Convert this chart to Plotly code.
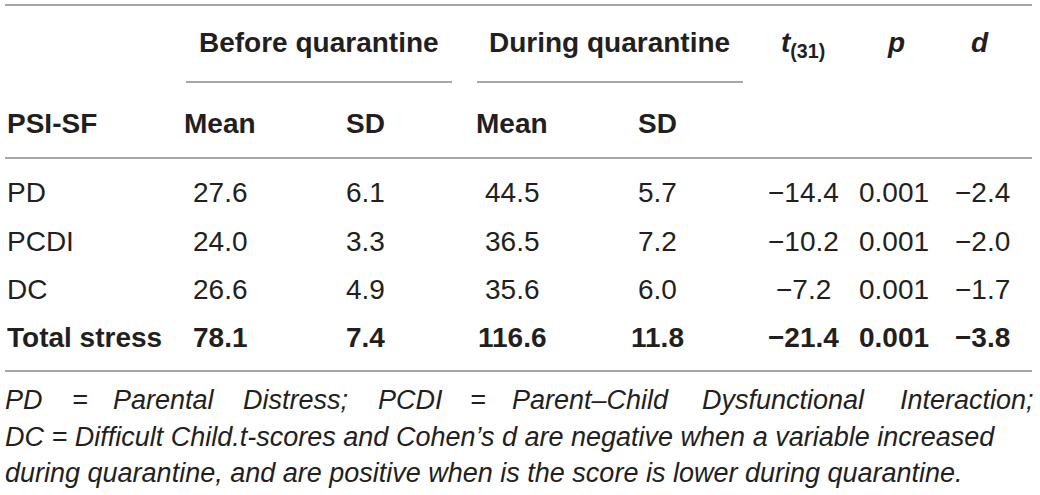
import plotly.graph_objects as go

# table values
scales = ["PD", "PCDI", "DC", "Total stress"]
before_mean = [27.6, 24.0, 26.6, 78.1]
before_sd = [6.1, 3.3, 4.9, 7.4]
during_mean = [44.5, 36.5, 35.6, 116.6]
during_sd = [5.7, 7.2, 6.0, 11.8]
t_vals = [-14.4, -10.2, -7.2, -21.4]
p_vals = [0.001, 0.001, 0.001, 0.001]
d_vals = [-2.4, -2.0, -1.7, -3.8]

group_headers = ["Before quarantine", "During quarantine"]
sub_headers = ["Mean", "SD", "Mean", "SD"]

note_line1 = ["PD", "=", "Parental", "Distress;", "PCDI", "=", "Parent\u2013Child",
              "Dysfunctional", "Interaction;"]
note_line2 = "DC = Difficult Child.t-scores and Cohen\u2019s d are negative when a variable increased"
note_line3 = "during quarantine, and are positive when is the score is lower during quarantine."

FONT = "Liberation Sans, Arial, sans-serif"
TXT = "#231f20"
LINE = "#8a8a8a"
FS = 28
FS_NOTE = 27


def fmt(v, nd=1):
    return f"{v:.{nd}f}".replace("-", "\u2212")


W, H = 1040, 495
col_x = [220, 365, 512, 657, 803, 894, 982]
row_y = [192, 241, 289, 337]

fig = go.Figure()

ann = []


def add(text, x, y, xanchor="center", size=FS):
    ann.append(dict(text=text, x=x, y=y, xref="x", yref="y", xanchor=xanchor,
                    yanchor="middle", showarrow=False,
                    font=dict(family=FONT, size=size, color=TXT)))


# headers
add("<b>" + group_headers[0] + "</b>", 319, 42)
add("<b>" + group_headers[1] + "</b>", 609, 42)
add("<b><i>t</i></b><sub><b>(31)</b></sub>", 803, 44)
add("<b><i>p</i></b>", 896, 42)
add("<b><i>d</i></b>", 980, 42)
add("<b>PSI-SF</b>", 5, 123, xanchor="left")
for i, h in enumerate(sub_headers):
    add("<b>" + h + "</b>", col_x[i], 123)

# body
columns = [before_mean, before_sd, during_mean, during_sd, t_vals, p_vals, d_vals]
for r, name in enumerate(scales):
    bold = name == "Total stress"
    wrap = (lambda s: "<b>" + s + "</b>") if bold else (lambda s: s)
    add(wrap(name), 5, row_y[r], xanchor="left")
    for c, col in enumerate(columns):
        nd = 3 if c == 5 else 1
        add(wrap(fmt(col[r], nd)), col_x[c], row_y[r])

# footnote (first line justified word by word)
note_x = [3, 70, 111, 241, 376, 468, 510, 700, 1036]
for k, (word, x) in enumerate(zip(note_line1, note_x)):
    add("<i>" + word + "</i>", x, 400,
        xanchor="right" if k == len(note_line1) - 1 else "left", size=FS_NOTE)
add("<i>" + note_line2 + "</i>", 3, 437, xanchor="left", size=FS_NOTE)
add("<i>" + note_line3 + "</i>", 3, 473, xanchor="left", size=FS_NOTE)

shapes = []
for x0, x1, y in [(5, 1032, 5), (186, 452, 82), (477, 743, 82), (5, 1032, 158), (5, 1032, 371)]:
    shapes.append(dict(type="line", xref="x", yref="y", x0=x0, x1=x1, y0=y, y1=y,
                       line=dict(color=LINE, width=1.5)))

fig.update_layout(
    width=W, height=H,
    margin=dict(l=0, r=0, t=0, b=0),
    paper_bgcolor="white", plot_bgcolor="white",
    xaxis=dict(range=[0, W], visible=False, fixedrange=True),
    yaxis=dict(range=[H, 0], visible=False, fixedrange=True),
    annotations=ann, shapes=shapes, showlegend=False,
)

fig.write_html("out.html", post_script="document.body.style.margin='0';",
               config={"displayModeBar": False})
